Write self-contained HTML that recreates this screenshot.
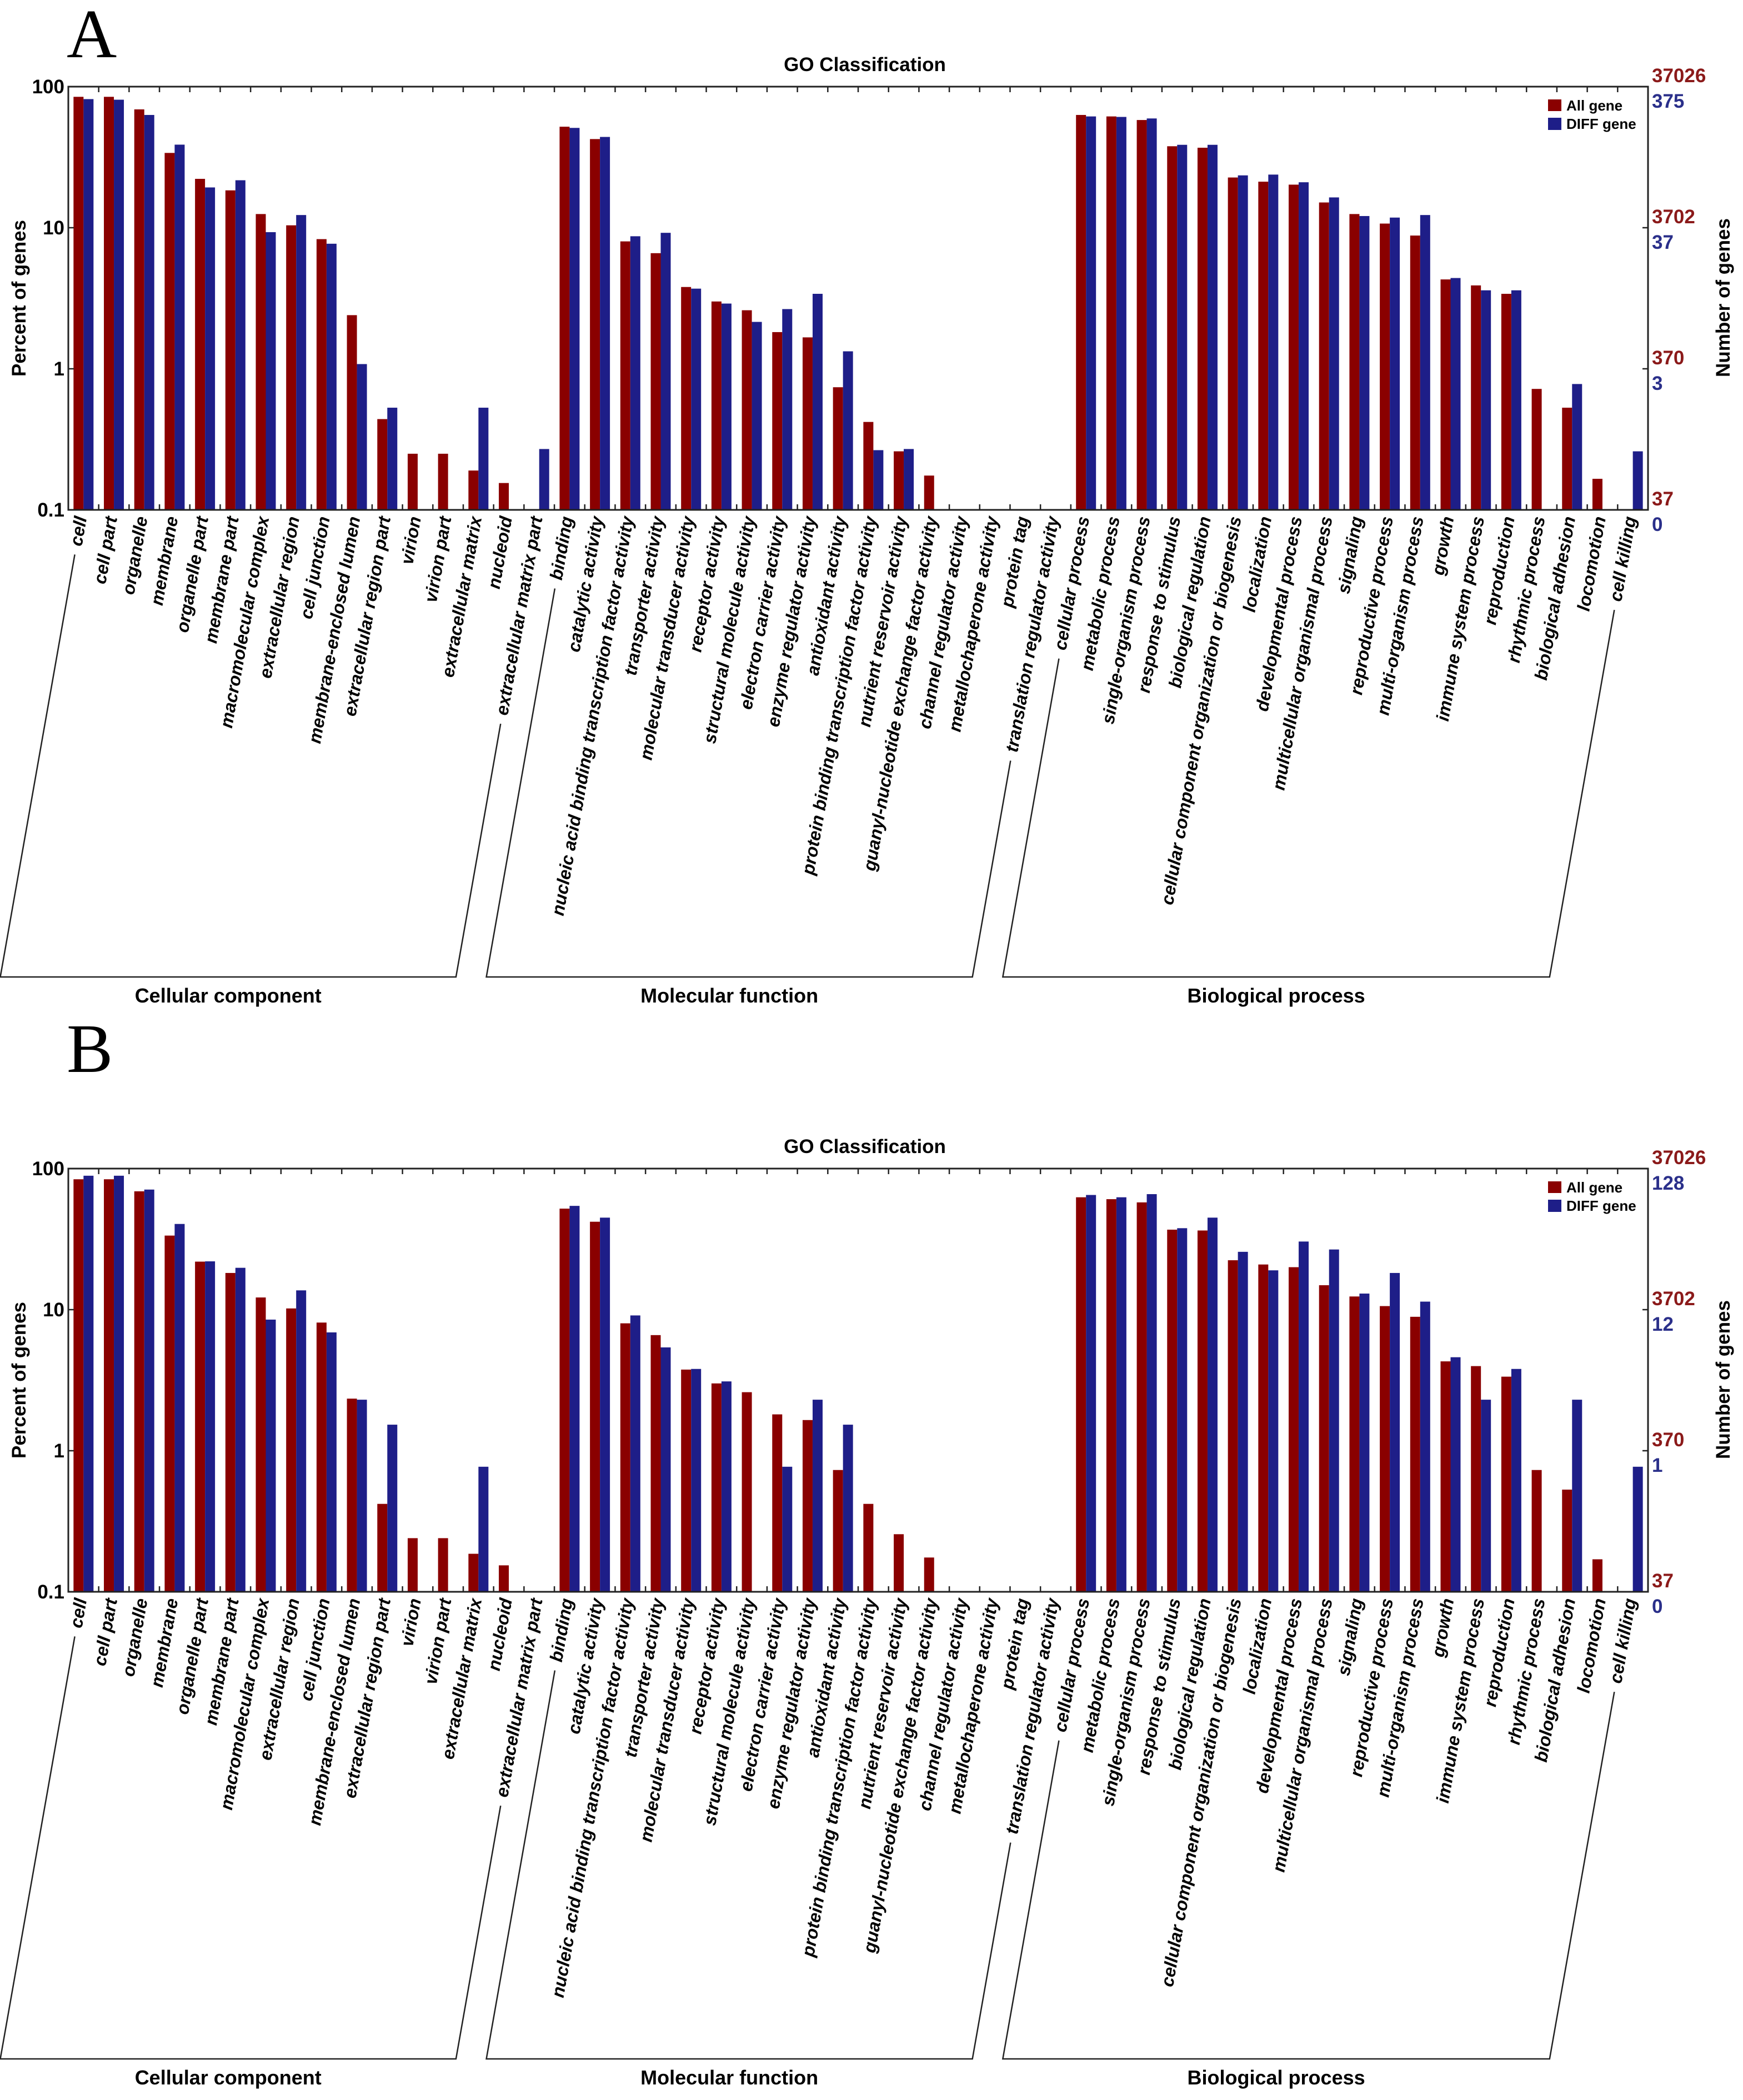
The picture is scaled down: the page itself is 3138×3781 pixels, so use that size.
<!DOCTYPE html>
<html><head><meta charset="utf-8">
<style>
html,body{margin:0;padding:0;background:#fff;}
svg{display:block;}
text{font-family:"Liberation Sans",sans-serif;}
</style></head>
<body>
<svg id="fig" xmlns="http://www.w3.org/2000/svg" width="3138" height="3781" viewBox="0 0 3138 3781">
<rect width="3138" height="3781" fill="#fff"/>
</svg>
<script>
const categories = ["cell","cell part","organelle","membrane","organelle part","membrane part","macromolecular complex","extracellular region","cell junction","membrane-enclosed lumen","extracellular region part","virion","virion part","extracellular matrix","nucleoid","extracellular matrix part",
"binding","catalytic activity","nucleic acid binding transcription factor activity","transporter activity","molecular transducer activity","receptor activity","structural molecule activity","electron carrier activity","enzyme regulator activity","antioxidant activity","protein binding transcription factor activity","nutrient reservoir activity","guanyl-nucleotide exchange factor activity","channel regulator activity","metallochaperone activity","protein tag","translation regulator activity",
"cellular process","metabolic process","single-organism process","response to stimulus","biological regulation","cellular component organization or biogenesis","localization","developmental process","multicellular organismal process","signaling","reproductive process","multi-organism process","growth","immune system process","reproduction","rhythmic process","biological adhesion","locomotion","cell killing"];
const groupNames = ["Cellular component","Molecular function","Biological process"];
const groupStart = [0,16,33];
const groupEnd = [15,32,51];
const allA = [84.7,84.7,69,33.9,22.2,18.4,12.5,10.4,8.3,2.4,0.44,0.25,0.25,0.19,0.155,0,
52,42.5,8.0,6.6,3.8,3.0,2.6,1.82,1.67,0.74,0.42,0.26,0.175,0,0,0,0,
63,61.5,58,37.8,36.9,22.7,21.2,20.2,15.1,12.5,10.7,8.8,4.3,3.9,3.4,0.72,0.53,0.166,0];
const diffA = [81.6,80.8,63,38.8,19.3,21.7,9.3,12.3,7.7,1.08,0.53,0,0,0.53,0,0.27,
51,44,8.7,9.2,3.7,2.9,2.15,2.65,3.4,1.33,0.265,0.27,0,0,0,0,0,
61.5,61,59.5,38.7,38.7,23.5,23.8,21,16.4,12.1,11.8,12.3,4.4,3.6,3.6,0,0.78,0,0.26];
const allB = [84,84,69,33.5,21.9,18.2,12.2,10.2,8.1,2.34,0.42,0.24,0.24,0.186,0.154,0,
52,42,8.0,6.6,3.76,3.0,2.6,1.81,1.65,0.73,0.42,0.256,0.175,0,0,0,0,
62.6,60.7,57.6,36.9,36.4,22.4,20.9,20,14.9,12.4,10.6,8.9,4.3,3.98,3.35,0.73,0.53,0.17,0];
const diffB = [89,89,71,40.5,22,19.8,8.5,13.7,6.9,2.3,1.53,0,0,0.77,0,0,
54.4,44.9,9.1,5.4,3.8,3.1,0,0.77,2.3,1.53,0,0,0,0,0,0,0,
65,62.6,65.9,37.8,44.9,25.7,19,30.4,26.7,13,18.2,11.4,4.6,2.3,3.8,0,2.3,0,0.77];
const leftTicks = [100,10,1,0.1];
const rightAllLabelsA = ["37026","3702","370","37"];
const rightDiffLabelsA = ["375","37","3","0"];
const rightAllLabelsB = ["37026","3702","370","37"];
const rightDiffLabelsB = ["128","12","1","0"];

const NS="http://www.w3.org/2000/svg";
const svg=document.getElementById('fig');
const RED="#8a0000", BLUE="#1e1e88";
const L=123,R=2967,N=categories.length,STEP=(R-L)/N,DEC=254;
function mk(tag,attrs,parent){const e=document.createElementNS(NS,tag);for(const k in attrs)e.setAttribute(k,attrs[k]);(parent||svg).appendChild(e);return e;}
function xc(i){return L+STEP*(i+0.5);}

function panel(P){
  const g=mk('g',{});
  
  
  const top=P.top,bot=top+3*DEC;
  function y(v){return bot-(Math.log10(v)+1)*DEC;}
  let t=mk('text',{x:120,y:P.letterY,'font-size':125,style:'font-family:"Liberation Serif",serif'},g);t.textContent=P.id;
  
  t=mk('text',{x:1557,y:top-28,'font-size':35,'font-weight':'bold','text-anchor':'middle'},g);t.textContent="GO Classification";
  
  for(let i=0;i<N;i++){
    const c=xc(i);
    if(P.all[i]>0){const r=mk('rect',{x:c-18,y:y(P.all[i]),width:18,height:bot-y(P.all[i]),fill:RED},g);
      }
    if(P.diff[i]>0){const r=mk('rect',{x:c,y:y(P.diff[i]),width:18,height:bot-y(P.diff[i]),fill:BLUE},g);
      }
  }
  const fr=mk('rect',{x:L,y:top,width:R-L,height:bot-top,fill:'none',stroke:'#222','stroke-width':3},g);
  
  for(let k=1;k<N;k++){const x=L+STEP*k;
    mk('line',{x1:x,y1:top,x2:x,y2:top+10,stroke:'#222','stroke-width':2.5},g);
    mk('line',{x1:x,y1:bot,x2:x,y2:bot-10,stroke:'#222','stroke-width':2.5},g);}
  leftTicks.forEach((v,j)=>{const yy=y(v);
    mk('line',{x1:L,y1:yy,x2:L+10,y2:yy,stroke:'#222','stroke-width':2.5},g);
    mk('line',{x1:R,y1:yy,x2:R-10,y2:yy,stroke:'#222','stroke-width':2.5},g);
    const tt=mk('text',{x:116,y:yy+12,'font-size':35,'font-weight':'bold','text-anchor':'end'},g);tt.textContent=String(v);
    
    const a=mk('text',{x:2974,y:yy-8,'font-size':35,'font-weight':'bold',fill:'#8b1a1a'},g);a.textContent=P.rAll[j];
    
    const b=mk('text',{x:2974,y:yy+38,'font-size':35,'font-weight':'bold',fill:'#2a2f8a'},g);b.textContent=P.rDiff[j];
    
  });
  t=mk('text',{x:0,y:0,'font-size':35,'font-weight':'bold','text-anchor':'middle',transform:`translate(46,${top+381}) rotate(-90)`},g);t.textContent="Percent of genes";
  
  t=mk('text',{x:0,y:0,'font-size':35,'font-weight':'bold','text-anchor':'middle',transform:`translate(3114,${top+380}) rotate(-90)`},g);t.textContent="Number of genes";
  
  const lg=mk('g',{},g);
  mk('rect',{x:2787,y:top+23,width:24,height:21,fill:RED},lg);
  mk('rect',{x:2787,y:top+56,width:24,height:22,fill:BLUE},lg);
  t=mk('text',{x:2820,y:top+43,'font-size':26,'font-weight':'bold'},lg);t.textContent="All gene";
  
  t=mk('text',{x:2820,y:top+76,'font-size':26,'font-weight':'bold'},lg);t.textContent="DIFF gene";
  
  const ang=80*Math.PI/180, cs=Math.cos(ang), sn=Math.sin(ang);
  const lens=[];
  for(let i=0;i<N;i++){
    const ax=xc(i)+6, ay=bot+14;
    const lt=mk('text',{x:0,y:0,'font-size':32,'font-weight':'bold','font-style':'italic','text-anchor':'end',transform:`translate(${ax},${ay}) rotate(-80)`},g);
    lt.textContent=categories[i];
    
    lens.push(lt.getComputedTextLength());
  }
  const by=P.bracketY;
  function legTop(i){const ax=xc(i)+6-10, ay=bot+14; const l=lens[i]+14; return [ax-l*cs, ay+l*sn];}
  function legBot(p){return [p[0]-(by-p[1])*cs/sn, by];}
  for(let k=0;k<3;k++){
    const a=legTop(groupStart[k]), b=legTop(groupEnd[k]);
    const a2=legBot(a), b2=legBot(b);
    const pl=mk('polyline',{points:`${a[0]},${a[1]} ${a2[0]},${a2[1]} ${b2[0]},${b2[1]} ${b[0]},${b[1]}`,fill:'none',stroke:'#222','stroke-width':2.5},g);
    
    const gt=mk('text',{x:(a2[0]+b2[0])/2,y:by+46,'font-size':36,'font-weight':'bold','text-anchor':'middle',style:'font-family:"Liberation Sans Narrow","Liberation Sans",sans-serif'},g);
    gt.textContent=groupNames[k];
    
  }
}
panel({id:'A',top:156,letterY:103,bracketY:1759,all:allA,diff:diffA,rAll:rightAllLabelsA,rDiff:rightDiffLabelsA});
panel({id:'B',top:2104,letterY:1930,bracketY:3707,all:allB,diff:diffB,rAll:rightAllLabelsB,rDiff:rightDiffLabelsB});
</script>
</body></html>
